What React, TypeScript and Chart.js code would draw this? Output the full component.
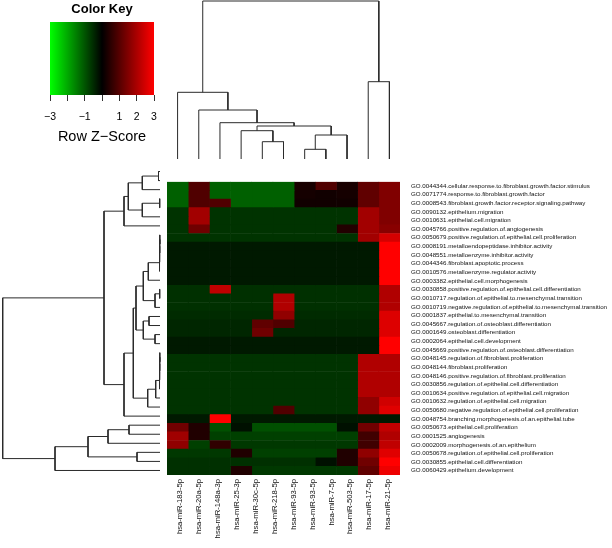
import React, { useEffect, useRef } from "react";
import { Chart, registerables } from "chart.js";
Chart.register(...registerables);

// ---------------- data ----------------
const rowLabels: string[] = [
  "GO.0044344.cellular.response.to.fibroblast.growth.factor.stimulus",
  "GO.0071774.response.to.fibroblast.growth.factor",
  "GO.0008543.fibroblast.growth.factor.receptor.signaling.pathway",
  "GO.0090132.epithelium.migration",
  "GO.0010631.epithelial.cell.migration",
  "GO.0045766.positive.regulation.of.angiogenesis",
  "GO.0050679.positive.regulation.of.epithelial.cell.proliferation",
  "GO.0008191.metalloendopeptidase.inhibitor.activity",
  "GO.0048551.metalloenzyme.inhibitor.activity",
  "GO.0044346.fibroblast.apoptotic.process",
  "GO.0010576.metalloenzyme.regulator.activity",
  "GO.0003382.epithelial.cell.morphogenesis",
  "GO.0030858.positive.regulation.of.epithelial.cell.differentiation",
  "GO.0010717.regulation.of.epithelial.to.mesenchymal.transition",
  "GO.0010719.negative.regulation.of.epithelial.to.mesenchymal.transition",
  "GO.0001837.epithelial.to.mesenchymal.transition",
  "GO.0045667.regulation.of.osteoblast.differentiation",
  "GO.0001649.osteoblast.differentiation",
  "GO.0002064.epithelial.cell.development",
  "GO.0045669.positive.regulation.of.osteoblast.differentiation",
  "GO.0048145.regulation.of.fibroblast.proliferation",
  "GO.0048144.fibroblast.proliferation",
  "GO.0048146.positive.regulation.of.fibroblast.proliferation",
  "GO.0030856.regulation.of.epithelial.cell.differentiation",
  "GO.0010634.positive.regulation.of.epithelial.cell.migration",
  "GO.0010632.regulation.of.epithelial.cell.migration",
  "GO.0050680.negative.regulation.of.epithelial.cell.proliferation",
  "GO.0048754.branching.morphogenesis.of.an.epithelial.tube",
  "GO.0050673.epithelial.cell.proliferation",
  "GO.0001525.angiogenesis",
  "GO.0002009.morphogenesis.of.an.epithelium",
  "GO.0050678.regulation.of.epithelial.cell.proliferation",
  "GO.0030855.epithelial.cell.differentiation",
  "GO.0060429.epithelium.development",
];

const columnLabels: string[] = [
  "hsa-miR-183-5p",
  "hsa-miR-20a-5p",
  "hsa-miR-148a-3p",
  "hsa-miR-25-3p",
  "hsa-miR-30c-5p",
  "hsa-miR-218-5p",
  "hsa-miR-93-5p",
  "hsa-miR-93-5p",
  "hsa-miR-7-5p",
  "hsa-miR-503-5p",
  "hsa-miR-17-5p",
  "hsa-miR-21-5p",
];

// Row Z-scores, one row per GO term, 11 heatmap columns
const zScores: number[][] = [
  [-1.13, 0.94, -1.13, -1.13, -1.13, -1.13, 0.3, 0.94, 0.3, 1.13, 1.5],
  [-1.13, 0.94, -1.13, -1.13, -1.13, -1.13, 0.25, 0.2, 0.25, 1.13, 1.5],
  [-1.13, 0.94, 0.94, -1.13, -1.13, -1.13, 0.2, 0.2, 0.2, 1.13, 1.5],
  [-0.6, 1.9, -0.6, -0.6, -0.6, -0.6, -0.6, -0.6, -0.6, 1.9, 1.5],
  [-0.6, 1.9, -0.6, -0.6, -0.6, -0.6, -0.6, -0.6, -0.6, 1.9, 1.5],
  [-0.6, 1.3, -0.6, -0.6, -0.6, -0.6, -0.6, -0.6, 0.4, 1.9, 1.6],
  [-0.6, -0.6, -0.6, -0.6, -0.6, -0.6, -0.6, -0.6, -0.6, 1.9, 2.5],
  [-0.3, -0.3, -0.3, -0.3, -0.3, -0.3, -0.3, -0.3, -0.3, -0.3, 3.0],
  [-0.3, -0.3, -0.3, -0.3, -0.3, -0.3, -0.3, -0.3, -0.3, -0.3, 3.0],
  [-0.3, -0.3, -0.3, -0.3, -0.3, -0.3, -0.3, -0.3, -0.3, -0.3, 3.0],
  [-0.3, -0.3, -0.3, -0.3, -0.3, -0.3, -0.3, -0.3, -0.3, -0.3, 3.0],
  [-0.3, -0.3, -0.3, -0.3, -0.3, -0.3, -0.3, -0.3, -0.3, -0.3, 3.0],
  [-0.56, -0.56, 2.26, -0.56, -0.56, -0.56, -0.56, -0.56, -0.56, -0.56, 2.07],
  [-0.56, -0.56, -0.56, -0.56, -0.56, 2.07, -0.56, -0.56, -0.56, -0.56, 2.07],
  [-0.56, -0.56, -0.56, -0.56, -0.56, 2.07, -0.56, -0.56, -0.56, -0.56, 2.07],
  [-0.5, -0.5, -0.5, -0.5, -0.5, 1.7, -0.5, -0.5, -0.5, -0.5, 2.6],
  [-0.45, -0.45, -0.45, -0.45, 1.13, 0.94, -0.45, -0.45, -0.45, -0.45, 2.6],
  [-0.45, -0.45, -0.45, -0.45, 1.3, -0.45, -0.45, -0.45, -0.45, -0.45, 2.6],
  [-0.3, -0.3, -0.3, -0.3, -0.3, -0.3, -0.3, -0.3, -0.3, -0.3, 3.0],
  [-0.3, -0.3, -0.3, -0.3, -0.3, -0.3, -0.3, -0.3, -0.3, -0.3, 3.0],
  [-0.6, -0.6, -0.6, -0.6, -0.6, -0.6, -0.6, -0.6, -0.6, 2.07, 2.07],
  [-0.6, -0.6, -0.6, -0.6, -0.6, -0.6, -0.6, -0.6, -0.6, 2.07, 2.07],
  [-0.6, -0.6, -0.6, -0.6, -0.6, -0.6, -0.6, -0.6, -0.6, 2.07, 2.07],
  [-0.6, -0.6, -0.6, -0.6, -0.6, -0.6, -0.6, -0.6, -0.6, 2.07, 2.07],
  [-0.6, -0.6, -0.6, -0.6, -0.6, -0.6, -0.6, -0.6, -0.6, 2.07, 2.07],
  [-0.6, -0.6, -0.6, -0.6, -0.6, -0.6, -0.6, -0.6, -0.6, 1.69, 2.45],
  [-0.6, -0.6, -0.6, -0.6, -0.6, 0.94, -0.6, -0.6, -0.6, 1.69, 2.64],
  [-0.3, -0.3, 3.0, -0.3, -0.3, -0.3, -0.3, -0.3, -0.3, -0.3, -0.3],
  [1.32, 0.38, -0.94, -0.19, -0.94, -0.94, -0.94, -0.94, -0.19, 1.32, 2.26],
  [1.88, 0.38, -0.75, -0.75, -0.75, -0.75, -0.75, -0.75, -0.75, 0.75, 2.07],
  [1.69, -0.75, 0.56, -0.66, -0.66, -0.66, -0.66, -0.66, -0.66, 0.75, 2.26],
  [-0.66, -0.66, -0.66, 0.38, -0.75, -0.75, -0.75, -0.75, 0.38, 1.69, 2.64],
  [-0.56, -0.56, -0.56, -0.56, -0.56, -0.56, -0.56, -0.19, 0.38, 1.32, 3.0],
  [-0.56, -0.56, -0.56, 0.38, -0.66, -0.66, -0.66, -0.66, -0.66, 1.13, 2.8],
];

// Column dendrogram (hclust style: negative = leaf in display order, positive = earlier merge)
const colMerges: [number, number][] = [
  [-7, -8], [-5, -6], [1, -9], [-4, 2], [4, 3], [-3, 5], [-2, 6], [-1, 7], [-10, -11], [8, 9],
];
const colHeights: number[] = [9.7, 17.3, 24, 28.3, 33, 36.3, 49, 66.7, 77.3, 158];

// Row dendrogram
const rowMerges: [number, number][] = [
  [-1, -2], [1, -3], [-4, -5], [3, -6], [2, 4], [5, -7],
  [-8, -9], [7, -10], [8, -11], [9, -12], [10, -13],
  [-14, -15], [12, -16], [11, 13], [-17, -18], [-19, -20], [15, 16], [14, 17],
  [-21, -22], [19, -23], [20, -24], [21, -25], [22, -26], [23, -27], [18, 24], [25, -28],
  [6, 26],
  [-29, -30], [28, -31], [-32, -33], [29, 30], [31, -34], [27, 32],
];
const rowHeights: number[] = [
  1.5, 17.7, 0.3, 17.7, 31.7, 36,
  0.2, 0.3, 0.4, 0.5, 11.7,
  0.3, 5, 16.7, 11, 5, 16.7, 24,
  0.2, 0.3, 0.4, 0.5, 4.3, 12.3, 26.7, 36,
  56,
  31, 52, 23, 72, 105, 157.3,
];

const keyTickValues: number[] = [-3, -2, -1, 0, 1, 2, 3];
const keyTickLabels: string[] = ["\u22123", "", "\u22121", "", "1", "2", "3"];

// ---------------- helpers ----------------
function zColor(z: number): string {
  const t = Math.max(-3, Math.min(3, z)) / 3;
  if (t < 0) return `rgb(0,${Math.round(-t * 255)},0)`;
  return `rgb(${Math.round(t * 255)},0,0)`;
}

type Seg = { p: number; h: number }[];
function dendroSegments(merges: [number, number][], heights: number[]): Seg[] {
  const pos: number[] = [];
  const segs: Seg[] = [];
  merges.forEach(([a, b], i) => {
    const pa = a < 0 ? -a : pos[a - 1];
    const ha = a < 0 ? 0 : heights[a - 1];
    const pb = b < 0 ? -b : pos[b - 1];
    const hb = b < 0 ? 0 : heights[b - 1];
    const h = heights[i];
    pos[i] = (pa + pb) / 2;
    segs.push([
      { p: pa, h: ha },
      { p: pa, h },
      { p: pb, h },
      { p: pb, h: hb },
    ]);
  });
  return segs;
}

const FONT = "'Liberation Sans', Arial, sans-serif";
const LINE = "#2a2a2a";

// ---------------- component ----------------
export default function App() {
  const keyRef = useRef<HTMLCanvasElement>(null);
  const colRef = useRef<HTMLCanvasElement>(null);
  const rowRef = useRef<HTMLCanvasElement>(null);
  const heatRef = useRef<HTMLCanvasElement>(null);

  useEffect(() => {
    const charts: Chart[] = [];

    // Color key
    charts.push(
      new Chart(keyRef.current!, {
        type: "bar",
        data: {
          labels: [""],
          datasets: [
            {
              data: [[-3, 3]] as any,
              barPercentage: 1,
              categoryPercentage: 1,
              borderWidth: 0,
              backgroundColor: (ctx: any) => {
                const chart = ctx.chart;
                const xs = chart.scales?.x;
                if (!xs) return "#000";
                const a = xs.getPixelForValue(-3);
                const b = xs.getPixelForValue(3);
                if (!isFinite(a) || !isFinite(b) || a === b) return "#000";
                const g = chart.ctx.createLinearGradient(a, 0, b, 0);
                g.addColorStop(0, "#00ff00");
                g.addColorStop(0.5, "#000000");
                g.addColorStop(1, "#ff0000");
                return g;
              },
            },
          ],
        },
        options: {
          indexAxis: "y",
          responsive: false,
          animation: false,
          layout: { padding: { left: 50, right: 46, top: 0, bottom: 0 } },
          plugins: {
            legend: { display: false },
            tooltip: { enabled: false },
            title: {
              display: true,
              text: "Color Key",
              color: "#000",
              font: { family: FONT, size: 13, weight: "bold" },
              padding: { top: 2, bottom: 4.4 },
            },
          },
          scales: {
            y: { display: false },
            x: {
              type: "linear",
              min: -3,
              max: 3,
              afterBuildTicks: (s: any) => {
                s.ticks = keyTickValues.map((v) => ({ value: v }));
              },
              ticks: {
                autoSkip: false,
                maxRotation: 0,
                minRotation: 0,
                color: "#000",
                padding: 10,
                font: { family: FONT, size: 10.5 },
                callback: (_v: any, i: number) => keyTickLabels[i],
              },
              grid: { drawOnChartArea: false, drawTicks: true, tickLength: 6, color: "#333" },
              border: { display: false },
              title: {
                display: true,
                text: "Row Z\u2212Score",
                color: "#000",
                font: { family: FONT, size: 14.5 },
                padding: 0,
              },
              afterFit: (s: any) => {
                s.height = 51;
              },
            },
          },
        },
      } as any)
    );

    // Column dendrogram
    const colSegs = dendroSegments(colMerges, colHeights);
    charts.push(
      new Chart(colRef.current!, {
        type: "scatter",
        data: {
          datasets: colSegs.map((s) => ({
            data: s.map((q) => ({ x: q.p, y: q.h })),
            showLine: true,
            pointRadius: 0,
            borderColor: LINE,
            borderWidth: 1,
            clip: false,
          })),
        },
        options: {
          responsive: false,
          animation: false,
          layout: { padding: { top: 1, bottom: 1, left: 0, right: 0 } },
          plugins: { legend: { display: false }, tooltip: { enabled: false } },
          scales: {
            x: { type: "linear", min: 0.5, max: 11.5, display: false },
            y: { type: "linear", min: 0, max: 158, display: false },
          },
        },
      } as any)
    );

    // Row dendrogram
    const rowSegs = dendroSegments(rowMerges, rowHeights);
    charts.push(
      new Chart(rowRef.current!, {
        type: "scatter",
        data: {
          datasets: rowSegs.map((s) => ({
            data: s.map((q) => ({ x: q.h, y: q.p })),
            showLine: true,
            pointRadius: 0,
            borderColor: LINE,
            borderWidth: 1,
            clip: false,
          })),
        },
        options: {
          responsive: false,
          animation: false,
          layout: { padding: { top: 1, bottom: 1, left: 2.7, right: 3 } },
          plugins: { legend: { display: false }, tooltip: { enabled: false } },
          scales: {
            x: { type: "linear", min: 0, max: 157.3, reverse: true, display: false },
            y: { type: "linear", min: 0.5, max: 34.5, reverse: true, display: false },
          },
        },
      } as any)
    );

    // Heatmap
    const nCols = zScores[0].length;
    const datasets = Array.from({ length: nCols }, (_, c) => ({
      data: rowLabels.map(() => 1),
      backgroundColor: zScores.map((r) => zColor(r[c])),
      barPercentage: 1,
      categoryPercentage: 1,
      borderWidth: 0,
      xAxisID: "x",
    }));
    charts.push(
      new Chart(heatRef.current!, {
        type: "bar",
        data: { labels: rowLabels, datasets },
        options: {
          indexAxis: "y",
          responsive: false,
          animation: false,
          layout: { padding: 0 },
          plugins: { legend: { display: false }, tooltip: { enabled: false } },
          scales: {
            x: { type: "linear", stacked: true, min: 0, max: nCols, display: false },
            y: {
              type: "category",
              stacked: true,
              position: "right",
              grid: { display: false, drawTicks: false },
              border: { display: false },
              ticks: {
                autoSkip: false,
                padding: 11,
                color: "#111",
                font: { family: FONT, size: 6.2 },
              },
              afterFit: (s: any) => {
                s.width = 212;
              },
            },
            xl: {
              type: "linear",
              position: "bottom",
              min: -0.18,
              max: 12.12,
              afterBuildTicks: (s: any) => {
                s.ticks = columnLabels.map((_, i) => ({ value: i + 0.5 }));
              },
              grid: { display: false, drawTicks: false },
              border: { display: false },
              ticks: {
                autoSkip: false,
                maxRotation: 90,
                minRotation: 90,
                padding: 4,
                color: "#111",
                font: { family: FONT, size: 7.7 },
                callback: (_v: any, i: number) => columnLabels[i],
              },
              afterFit: (s: any) => {
                s.height = 73;
              },
            },
          },
        },
      } as any)
    );

    return () => charts.forEach((c) => c.destroy());
  }, []);

  const abs = (left: number, top: number, w: number, h: number): React.CSSProperties => ({
    position: "absolute",
    left,
    top,
    width: w,
    height: h,
  });

  return (
    <div style={{ position: "absolute", left: 0, top: 0, width: 612, height: 548, background: "#fff", overflow: "hidden" }}>
      <canvas ref={keyRef} width={200} height={146} style={abs(0, 0, 200, 146)} />
      <canvas ref={colRef} width={233} height={160} style={abs(167, 0, 233, 160)} />
      <canvas ref={rowRef} width={163} height={310} style={abs(0, 166, 163, 310)} />
      <canvas ref={heatRef} width={445} height={381} style={abs(167, 167, 445, 381)} />
    </div>
  );
}
